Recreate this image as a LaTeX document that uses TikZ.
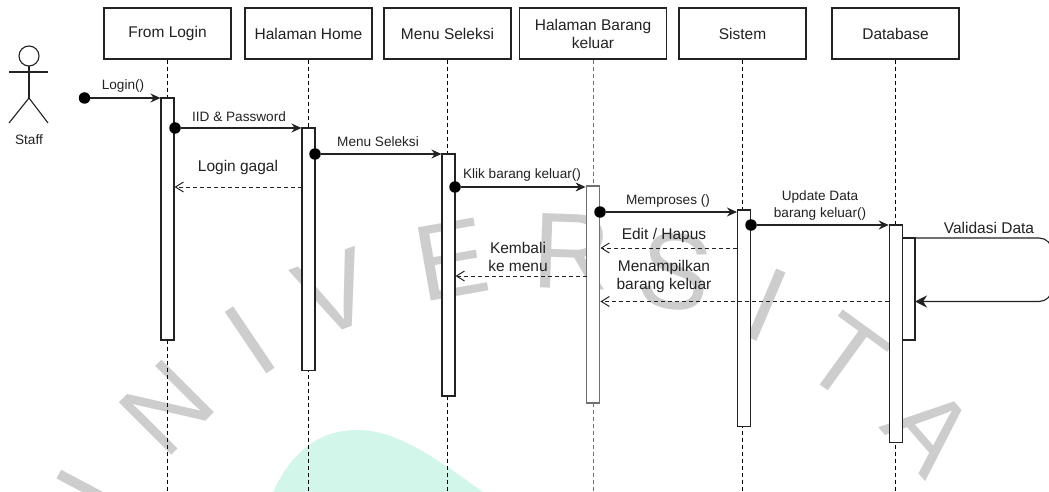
\documentclass[tikz,border=0pt]{standalone}
\usepackage{fontspec}
\setmainfont{Liberation Sans}
\usetikzlibrary{arrows.meta}
\definecolor{markgray}{HTML}{CDCDCD}
\definecolor{blobgreen}{HTML}{D2F6EA}
\definecolor{darkline}{HTML}{222222}
\definecolor{midgray}{HTML}{707070}
\tikzset{
    every node/.append style={text=darkline},
    headbox/.style={draw=darkline, line width=1.1pt, fill=white, minimum width=127pt, minimum height=51pt, align=center, inner sep=0pt, font=\fontsize{15.5}{18}\selectfont},
    lifeline/.style={dashed, line width=1pt, color=black, dash pattern=on 4pt off 3pt},
    activebar/.style={draw=darkline, line width=1.1pt, fill=white, minimum width=13pt, inner sep=0pt},
    startdot/.style={circle, fill=black, minimum size=11.5pt, inner sep=0pt},
    callarrow/.style={->, line width=1.1pt, color=darkline, >={Stealth[length=10pt,width=9pt]}},
    backarrow/.style={->, dashed, line width=1pt, color=darkline, dash pattern=on 4pt off 3pt, >={Straight Barb[length=8pt,width=10pt]}},
    smalltext/.style={align=center, inner sep=0pt, font=\fontsize{13.6}{17}\selectfont},
    bigtext/.style={align=center, inner sep=0pt, font=\fontsize{15.5}{18}\selectfont},
    markletter/.style={text=markgray, inner sep=0pt, font=\fontsize{108}{108}\selectfont}
}
\begin{document}
\begin{tikzpicture}[x=1pt, y=-1pt]
    \useasboundingbox (0,0) rectangle (1049,492);

    % Background shape and watermark letters
    \fill[blobgreen] (273,492) .. controls (295,445) and (325,430) .. (358,430) .. controls (400,430) and (445,465) .. (483,492) -- cycle;
    \node[markletter, rotate=62] (markU) at (80,515) {U};
    \node[markletter, rotate=45] (markN) at (167,408) {N};
    \node[markletter, rotate=34] (markIa) at (250,340) {I};
    \node[markletter, rotate=20] (markV) at (335,293) {V};
    \node[markletter, rotate=10] (markE) at (452,260) {E};
    \node[markletter, rotate=-2] (markR) at (572,252) {R};
    \node[markletter, rotate=-8] (markS) at (675,272) {S};
    \node[markletter, rotate=-23] (markIb) at (767,305) {I};
    \node[markletter, rotate=-36] (markT) at (846,358) {T};
    \node[markletter, rotate=-49] (markA) at (930,430) {A};

    % Actor
    \draw[line width=1.1pt, color=darkline] (29,56) circle (10);
    \coordinate (neck) at (29,66);
    \coordinate (hip) at (29,98);
    \coordinate (armL) at (9,72);
    \coordinate (armR) at (48,72);
    \coordinate (footL) at (9,123);
    \coordinate (footR) at (48,123);
    \draw[line width=1.1pt, color=darkline] (neck) -- (hip);
    \draw[line width=1.1pt, color=darkline] (armL) -- (armR);
    \draw[line width=1.1pt, color=darkline] (footL) -- (hip) -- (footR);
    \node[smalltext] (staff) at (29,140) {Staff};

    % Head boxes
    \node[headbox] (login) at (167.5,33.5) {From Login};
    \node[headbox] (home) at (308.5,33.5) {Halaman Home};
    \node[headbox] (menu) at (447.5,33.5) {Menu Seleksi};
    \node[headbox, minimum width=147pt] (barang) at (593,33.5) {Halaman Barang\\keluar};
    \node[headbox] (sistem) at (742.5,33.5) {Sistem};
    \node[headbox] (database) at (895.5,33.5) {Database};

    % Lifelines
    \coordinate (endLogin) at (167.5,492);
    \coordinate (endHome) at (308.5,492);
    \coordinate (endMenu) at (447.5,492);
    \coordinate (endBarang) at (593,492);
    \coordinate (endSistem) at (742.5,492);
    \coordinate (endDatabase) at (895.5,492);
    \draw[lifeline] (login) -- (endLogin);
    \draw[lifeline] (home) -- (endHome);
    \draw[lifeline] (menu) -- (endMenu);
    \draw[lifeline, color=midgray] (barang) -- (endBarang);
    \draw[lifeline] (sistem) -- (endSistem);
    \draw[lifeline] (database) -- (endDatabase);

    % Activation bars
    \node[activebar, minimum height=242pt] (barLogin) at (167.5,219) {};
    \node[activebar, minimum height=242.5pt] (barHome) at (308.5,249.25) {};
    \node[activebar, minimum height=242pt] (barMenu) at (448.5,275) {};
    \node[activebar, minimum height=217pt, draw=midgray, line width=1.8pt] (barBarang) at (593,294.5) {};
    \node[activebar, minimum height=216.5pt] (barSistem) at (744,318.25) {};
    \node[activebar, minimum height=217.5pt] (barDatabase) at (895.75,333.75) {};
    \node[activebar, minimum height=102pt, minimum width=12.5pt] (barSelf) at (908.75,289) {};

    % Calls
    \node[startdot] (dotLogin) at (84.5,98) {};
    \node[startdot] (dotHome) at (175,128) {};
    \node[startdot] (dotMenu) at (315,154) {};
    \node[startdot] (dotBarang) at (455,187) {};
    \node[startdot] (dotSistem) at (600,212) {};
    \node[startdot] (dotDatabase) at (751,225) {};
    \draw[callarrow] (dotLogin) -- (barLogin.west |- dotLogin);
    \draw[callarrow] (dotHome) -- (barHome.west |- dotHome);
    \draw[callarrow] (dotMenu) -- (barMenu.west |- dotMenu);
    \draw[callarrow] (dotBarang) -- (barBarang.west |- dotBarang);
    \draw[callarrow] (dotSistem) -- (barSistem.west |- dotSistem);
    \draw[callarrow] (dotDatabase) -- (barDatabase.west |- dotDatabase);

    % Returns
    \coordinate (backGagal) at (302,187);
    \coordinate (backKembali) at (586.5,276);
    \coordinate (backEdit) at (737,248);
    \coordinate (backTampil) at (889,301.5);
    \draw[backarrow] (backGagal) -- (barLogin.east |- backGagal);
    \draw[backarrow] (backKembali) -- (barMenu.east |- backKembali);
    \draw[backarrow] (backEdit) -- (barBarang.east |- backEdit);
    \draw[backarrow] (backTampil) -- (barBarang.east |- backTampil);

    % Self call running off the page
    \coordinate (selfOut) at (915,238);
    \coordinate (selfBack) at (1052,238);
    \coordinate (selfDown) at (1052,301.5);
    \coordinate (selfIn) at (915,301.5);
    \draw[->, line width=1.1pt, color=darkline, rounded corners=13pt, >={Stealth[length=12pt,width=12pt]}] (selfOut) -- (selfBack) -- (selfDown) -- (selfIn);

    % Labels
    \node[smalltext] (txtLogin) at (123,86) {Login()};
    \node[smalltext] (txtId) at (239,116.5) {IID \& Password};
    \node[smalltext] (txtMenu) at (378,141.5) {Menu Seleksi};
    \node[smalltext] (txtKlik) at (522,175) {Klik barang keluar()};
    \node[smalltext] (txtProses) at (668,200.5) {Memproses ()};
    \node[smalltext] (txtUpdate) at (820,205.5) {Update Data\\barang keluar()};
    \node[bigtext] (txtGagal) at (238,167) {Login gagal};
    \node[bigtext] (txtKembali) at (518,256.5) {Kembali\\ke menu};
    \node[bigtext] (txtEdit) at (664,235.5) {Edit / Hapus};
    \node[bigtext] (txtTampil) at (664,276) {Menampilkan\\barang keluar};
    \node[bigtext] (txtValidasi) at (989,228) {Validasi Data};
\end{tikzpicture}
\end{document}
